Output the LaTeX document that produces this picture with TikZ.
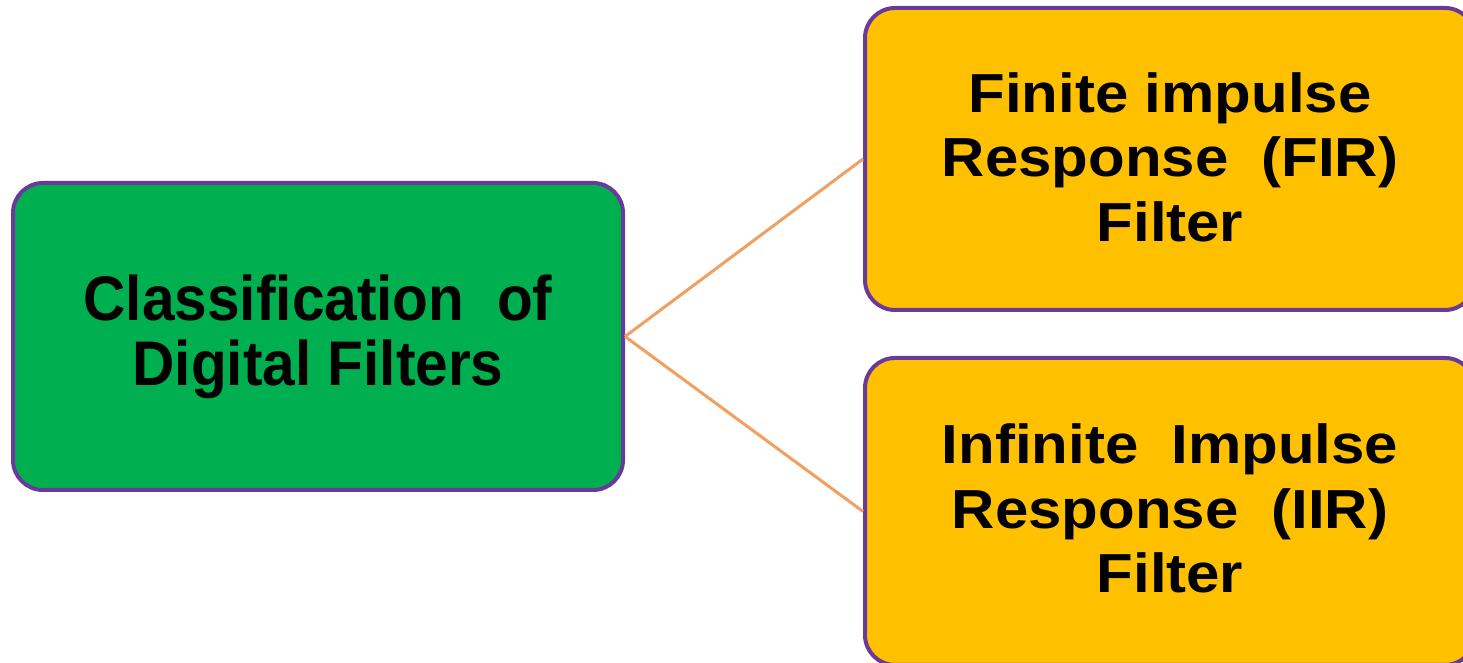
\documentclass[tikz,border=0pt]{standalone}
\usepackage{fontspec}
\usepackage{graphicx}
\setmainfont{Liberation Sans}
\definecolor{boxgreen}{HTML}{00B050}
\definecolor{boxyellow}{HTML}{FFC000}
\definecolor{boxborder}{HTML}{6A3A9A}
\definecolor{linkorange}{HTML}{F0A060}
% #1 extra height (moves text down by half), #2 horizontal scale, #3 size, #4 skip, #5 lines
\newcommand{\boxlines}[5]{\raisebox{0pt}[\dimexpr\height+#1\relax][\depth]{%
  \scalebox{#2}[1]{\fontsize{#3}{#4}\selectfont\bfseries
  \begin{tabular}{@{}c@{}}#5\end{tabular}}}}
\tikzset{
  box/.style={draw=boxborder, line width=4pt, rounded corners=30pt, align=center,
    text=black, inner sep=0pt},
  link/.style={draw=linkorange, line width=3pt}
}
\begin{document}
\begin{tikzpicture}[x=1pt,y=1pt]
\useasboundingbox (0,0) rectangle (1463,663);
\clip (0,0) rectangle (1463,663);
\node[box, fill=boxgreen, minimum width=610pt, minimum height=307pt] (root) at (318,326.5)
  {\boxlines{6pt}{0.93}{63}{62}{Classification\ \ of\\Digital\ Filters}};
\node[box, fill=boxyellow, minimum width=610pt, minimum height=302pt] (fir) at (1170,504)
  {\boxlines{10pt}{1.09}{55}{64.5}{Finite impulse\\Response\ \ (FIR)\\Filter}};
\node[box, fill=boxyellow, minimum width=610pt, minimum height=307pt] (iir) at (1170,151.5)
  {\boxlines{8pt}{1.09}{55}{64.5}{Infinite\ \ Impulse\\Response\ \ (IIR)\\Filter}};
\draw[link] (root.east) -- (fir.west);
\draw[link] (root.east) -- (iir.west);
\end{tikzpicture}
\end{document}
